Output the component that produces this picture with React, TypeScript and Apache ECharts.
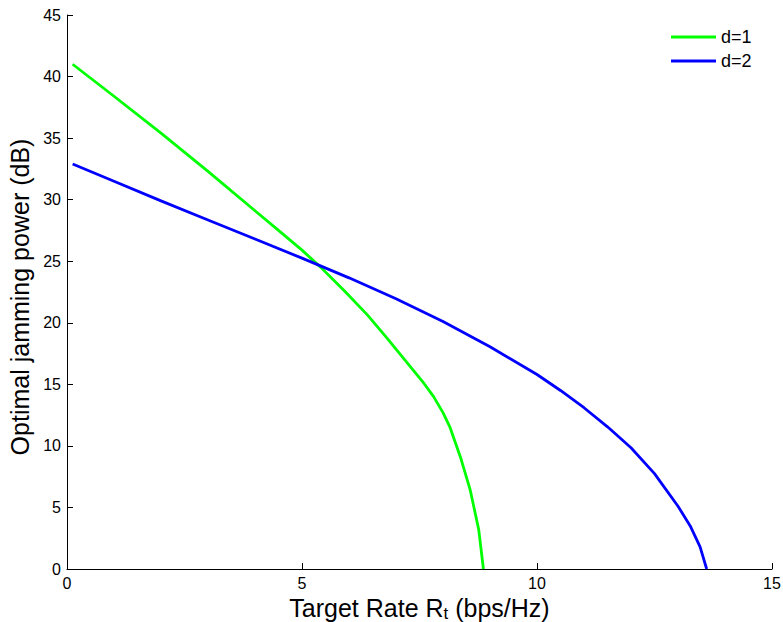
import React, { useEffect, useRef } from "react";
import * as echarts from "echarts";

const seriesNames = ["d=1", "d=2"];
const greenX = [0.12, 1, 2, 3, 4, 4.5, 5, 5.4, 5.9, 6.4, 6.8, 7.1, 7.4, 7.6, 7.8, 8, 8.15, 8.37, 8.58, 8.76, 8.86];
const greenY = [41.0, 38.4, 35.4, 32.3, 29.1, 27.5, 25.9, 24.5, 22.6, 20.6, 18.8, 17.4, 16.0, 15.05, 14.0, 12.7, 11.5, 9.1, 6.4, 3.2, 0];
const blueX = [0.12, 1, 2, 3, 4, 5, 6, 7, 8, 9, 10, 10.5, 11, 11.5, 12, 12.5, 13, 13.26, 13.47, 13.61];
const blueY = [32.9, 31.5, 29.9, 28.35, 26.8, 25.25, 23.65, 21.95, 20.1, 18.05, 15.8, 14.5, 13.1, 11.55, 9.85, 7.75, 5.1, 3.5, 1.8, 0];
const xTicks = { min: 0, max: 15, interval: 5 };
const yTicks = { min: 0, max: 45, interval: 5 };
const xTitle = "{a|Target Rate R}{s|t}{a| (bps/Hz)}";
const yTitle = "Optimal jamming power (dB)";

const FONT = "'Liberation Sans', Arial, Helvetica, sans-serif";

export default function App() {
  const ref = useRef<HTMLDivElement>(null);
  useEffect(() => {
    if (!ref.current) return;
    const chart = echarts.init(ref.current, undefined, { renderer: "svg" });
    const pairs = (xs: number[], ys: number[]) => xs.map((x, i) => [x, ys[i]]);
    const axisCommon = {
      axisLine: { show: true, lineStyle: { color: "#000", width: 1 } },
      axisTick: { show: true, inside: true, length: 6, lineStyle: { color: "#000" } },
      splitLine: { show: false },
      axisLabel: { color: "#000", fontSize: 16, fontFamily: FONT },
    };
    chart.setOption({
      animation: false,
      backgroundColor: "#fff",
      grid: { left: 67, right: 11, top: 15, bottom: 53, containLabel: false, outerBoundsMode: "none" },
      legend: {
        orient: "vertical",
        left: 666,
        top: 22,
        itemWidth: 45,
        itemHeight: 3,
        itemGap: 4,
        icon: "rect",
        textStyle: { color: "#000", fontSize: 18, fontFamily: FONT, lineHeight: 20 },
        data: seriesNames,
      },
      xAxis: {
        type: "value",
        ...xTicks,
        ...axisCommon,
        axisLabel: { ...axisCommon.axisLabel, margin: 6 },
        name: xTitle,
        nameLocation: "middle",
        nameGap: 13,
        nameTextStyle: {
          rich: {
            a: { fontSize: 25, fontFamily: FONT, color: "#000" },
            s: { fontSize: 17, fontFamily: FONT, color: "#000", padding: [10, 0, 0, 0] },
          },
        },
      },
      yAxis: {
        type: "value",
        ...yTicks,
        ...axisCommon,
        axisLabel: { ...axisCommon.axisLabel, margin: 6 },
        name: yTitle,
        nameLocation: "middle",
        nameGap: 33,
        nameTextStyle: { fontSize: 25, fontFamily: FONT, color: "#000", padding: [0, 10, 0, 0] },
      },
      series: [
        {
          name: seriesNames[0],
          type: "line",
          data: pairs(greenX, greenY),
          showSymbol: false,
          smooth: false,
          lineStyle: { color: "#00ff00", width: 2.8 },
          itemStyle: { color: "#00ff00" },
        },
        {
          name: seriesNames[1],
          type: "line",
          data: pairs(blueX, blueY),
          showSymbol: false,
          smooth: false,
          lineStyle: { color: "#0000ff", width: 2.8 },
          itemStyle: { color: "#0000ff" },
        },
      ],
    });
    return () => chart.dispose();
  }, []);
  return <div ref={ref} style={{ width: 783, height: 622, position: "absolute", left: 0, top: 0 }} />;
}
